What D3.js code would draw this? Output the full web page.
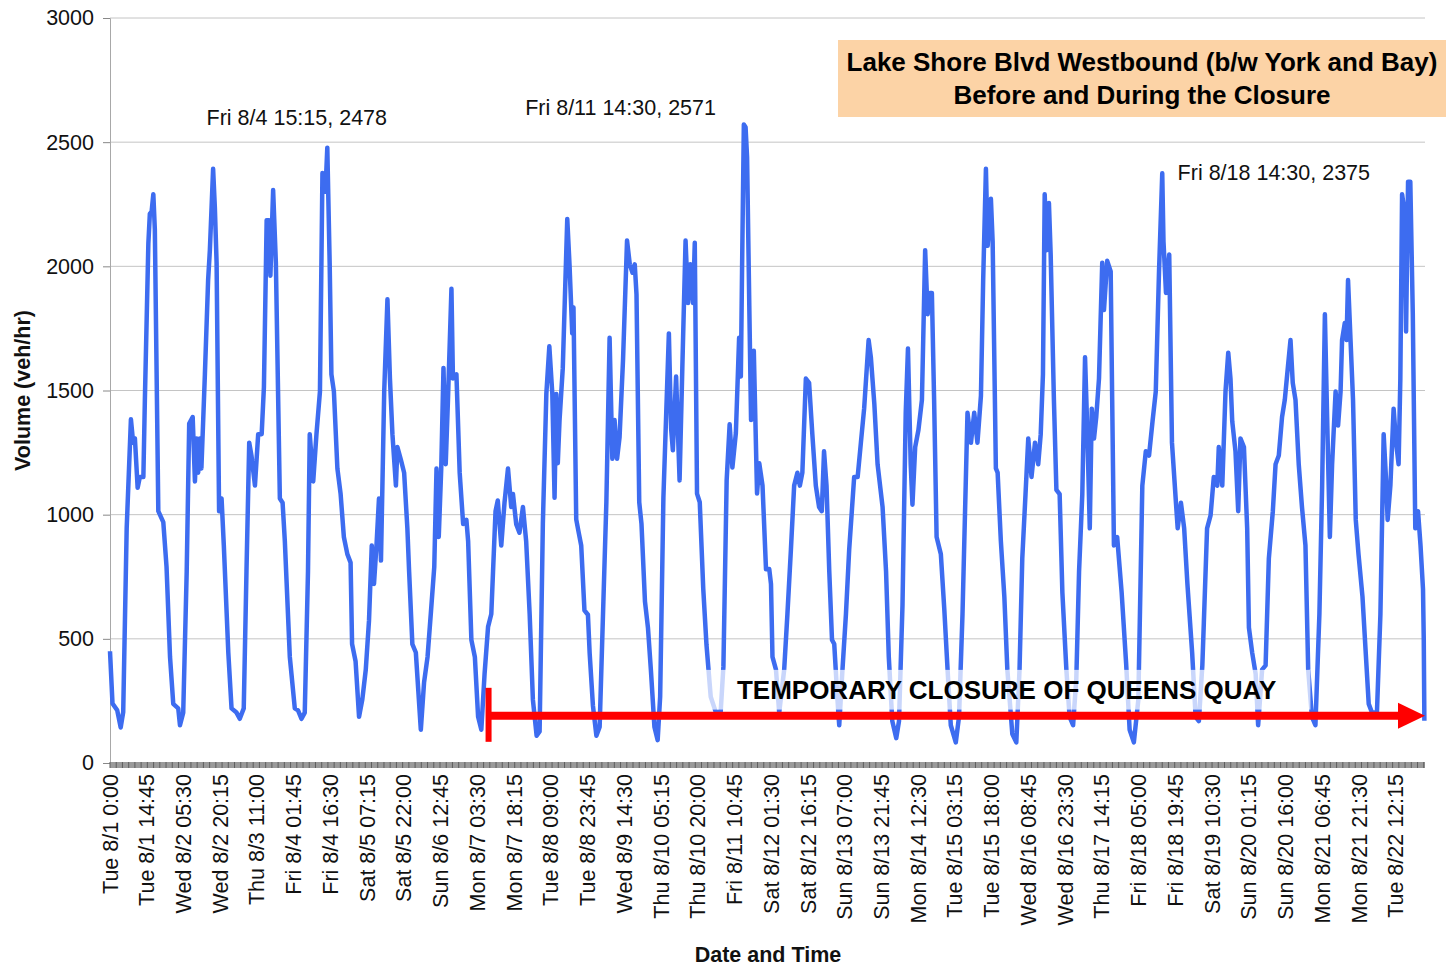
<!DOCTYPE html>
<html>
<head>
<meta charset="utf-8">
<script src="https://cdn.jsdelivr.net/npm/d3@7"></script>
<style>
  body { margin: 0; background: #fff; }
  svg { display: block; font-family: 'Liberation Sans', Arial, Helvetica, sans-serif; }
</style>
</head>
<body>
<svg id="chart" width="1447" height="967"></svg>
<script>
// category labels shown every 59 x 15 min
const xTickLabels = [
  'Tue 8/1 0:00', 'Tue 8/1 14:45', 'Wed 8/2 05:30', 'Wed 8/2 20:15', 'Thu 8/3 11:00',
  'Fri 8/4 01:45', 'Fri 8/4 16:30', 'Sat 8/5 07:15', 'Sat 8/5 22:00', 'Sun 8/6 12:45',
  'Mon 8/7 03:30', 'Mon 8/7 18:15', 'Tue 8/8 09:00', 'Tue 8/8 23:45', 'Wed 8/9 14:30',
  'Thu 8/10 05:15', 'Thu 8/10 20:00', 'Fri 8/11 10:45', 'Sat 8/12 01:30', 'Sat 8/12 16:15',
  'Sun 8/13 07:00', 'Sun 8/13 21:45', 'Mon 8/14 12:30', 'Tue 8/15 03:15', 'Tue 8/15 18:00',
  'Wed 8/16 08:45', 'Wed 8/16 23:30', 'Thu 8/17 14:15', 'Fri 8/18 05:00', 'Fri 8/18 19:45',
  'Sat 8/19 10:30', 'Sun 8/20 01:15', 'Sun 8/20 16:00', 'Mon 8/21 06:45', 'Mon 8/21 21:30',
  'Tue 8/22 12:15',
];
const yTickValues = [0, 500, 1000, 1500, 2000, 2500, 3000];

// readings per day: [hour of day, veh/hr]
const tue0801 = [[0, 450], [1, 240], [2.9, 212], [4.3, 143], [5.3, 205], [6.7, 945], [8.4, 1384], [9.3, 1290], [10, 1307], [11.1, 1108], [12, 1152], [13.4, 1152], [14, 1462], [15.4, 2091], [16, 2212], [16.7, 2220], [17.4, 2290], [18, 2150], [19.4, 1014], [21.4, 970], [22.7, 790]];
const wed0802 = [[0.1, 427], [1.4, 238], [3.4, 220], [4.1, 152], [5.4, 203], [6.8, 772], [7.8, 1367], [9.2, 1393], [10.1, 1134], [10.8, 1307], [11.4, 1169], [12.1, 1307], [12.7, 1186], [14.1, 1565], [15.4, 1945], [16.1, 2065], [17.4, 2393], [18.1, 2238], [18.8, 2014], [19.8, 1014], [20.8, 1065], [21.7, 876], [23.5, 445]];
const thu0803 = [[0.8, 220], [2.8, 203], [4.1, 178], [5.7, 220], [6.8, 772], [7.9, 1290], [8.8, 1238], [10.2, 1117], [11.5, 1324], [12.9, 1324], [13.8, 1514], [14.9, 2186], [15.9, 2186], [16.4, 1962], [17.5, 2307], [18.6, 2014], [20.2, 1065], [21.3, 1048], [22.2, 893]];
const fri0804 = [[0.2, 427], [2.2, 220], [3.5, 212], [4.9, 178], [6.2, 203], [7.5, 772], [8.2, 1324], [9.6, 1134], [10.9, 1324], [12.3, 1496], [13.3, 2376], [14.5, 2300], [15.25, 2478], [16.2, 2014], [16.9, 1565], [17.9, 1496], [19.3, 1186], [20.6, 1083], [21.9, 910], [23.3, 841]];
const sat0805 = [[0.6, 807], [1.2, 479], [2.6, 410], [4, 186], [5.3, 255], [6.7, 376], [8, 574], [9.1, 876], [10, 721], [11, 876], [12, 1065], [12.8, 815], [14.1, 1496], [15.4, 1867], [16.4, 1548], [17.4, 1324], [18.8, 1117], [19.4, 1272], [20.8, 1221], [22.1, 1169], [23.4, 945]];
const sun0806 = [[0.1, 772], [1.4, 479], [2.8, 445], [4.8, 134], [6.1, 324], [7.5, 427], [8.8, 600], [10.2, 790], [11.1, 1186], [12, 910], [13, 1186], [13.9, 1591], [14.8, 1203], [15.7, 1462], [17.1, 1910], [17.7, 1548], [19.1, 1565], [20.4, 1169], [21.8, 962], [23.1, 979], [23.8, 893]];
const mon0807 = [[1.1, 496], [2.5, 427], [3.8, 186], [5.1, 134], [6.4, 359], [7.8, 548], [9.1, 600], [9.8, 772], [10.8, 1014], [11.7, 1057], [13.1, 876], [14.4, 1048], [15.8, 1186], [17.1, 1031], [17.8, 1083], [19.1, 962], [20.4, 927], [21.8, 1031], [23.1, 893]];
const tue0808 = [[0.5, 600], [1.8, 255], [3.3, 110], [4.5, 127], [5.8, 963], [7.2, 1486], [8.4, 1678], [9.6, 1486], [10.5, 1068], [11.2, 1486], [11.8, 1207], [12.5, 1381], [13.8, 1590], [15.6, 2191], [16.5, 2008], [17.6, 1730], [18.1, 1834], [19.2, 981], [20.2, 928], [21.2, 876], [22.5, 615], [23.9, 597]];
const wed0809 = [[0.6, 441], [1.9, 232], [3.3, 110], [4.6, 145], [6, 615], [7.3, 1050], [8.6, 1712], [9.7, 1225], [10.6, 1381], [11.6, 1225], [12.6, 1312], [14, 1625], [15.6, 2104], [16.7, 2008], [17.8, 1974], [18.7, 2008], [19.4, 1887], [20.5, 1050], [21.4, 963], [22.8, 650]];
const thu0810 = [[0, 545], [1.2, 371], [2.6, 145], [3.9, 92], [4.9, 267], [6.2, 1068], [8.4, 1730], [9.3, 1347], [10, 1259], [11.3, 1556], [12.7, 1138], [13.8, 1590], [15.1, 2104], [16.1, 1852], [17, 2008], [18.1, 1852], [18.8, 2095], [19.7, 1085], [20.8, 1050], [22.2, 702], [23.5, 476]];
const fri0811 = [[1.2, 267], [3.2, 206], [5.2, 206], [6.3, 389], [7.6, 1138], [8.8, 1364], [9.9, 1190], [11.3, 1329], [12.6, 1712], [13.3, 1556], [13.8, 2000], [14.5, 2571], [15.2, 2560], [15.8, 2440], [16.7, 1834], [17.4, 1381], [18.5, 1660], [19.8, 1085], [20.7, 1207], [22, 1117], [23.4, 780]];
const sat0812 = [[0.7, 781], [1.4, 721], [2, 427], [3.4, 376], [4.7, 203], [6.7, 376], [8, 600], [9.4, 859], [10.7, 1117], [12, 1169], [13, 1117], [14, 1169], [15.4, 1548], [16.7, 1531], [18, 1324], [19.4, 1117], [20.7, 1031], [21.8, 1014], [22.7, 1255], [23.7, 1117]];
const sun0813 = [[0.8, 772], [1.9, 496], [2.8, 479], [4.1, 255], [4.8, 152], [6.1, 376], [7.5, 600], [8.8, 859], [10.8, 1152], [12.2, 1152], [13.5, 1290], [14.8, 1427], [16.6, 1703], [17.5, 1634], [18.9, 1445], [20.2, 1203], [22.2, 1031], [23.6, 772]];
const mon0814 = [[0.7, 427], [2.1, 169], [3.7, 100], [4.8, 169], [6.2, 634], [7.5, 1410], [8.4, 1669], [9.5, 1203], [10.2, 1040], [11.3, 1272], [12.6, 1341], [14, 1462], [15.3, 2065], [16.3, 1807], [17.2, 1893], [18, 1893], [18.9, 1462], [19.9, 910], [21.6, 841], [23, 617]];
const tue0815 = [[0.3, 376], [1.6, 152], [3.6, 83], [4.9, 186], [6.3, 600], [8.3, 1410], [9.7, 1290], [11, 1410], [12.3, 1290], [13.7, 1479], [14.6, 1945], [15.7, 2393], [16.4, 2083], [17.7, 2272], [18.4, 2100], [19.7, 1186], [20.4, 1169], [21.7, 893], [23.1, 669]];
const wed0816 = [[0.3, 376], [2.3, 117], [3.9, 83], [5.2, 376], [6.3, 824], [7.6, 1083], [8.7, 1307], [10, 1152], [11.4, 1290], [12.7, 1203], [13.7, 1324], [14.6, 1565], [15.3, 2290], [16.1, 2065], [17, 2255], [17.7, 2048], [19, 1462], [20, 1100], [21.3, 1083], [22.4, 686]];
const thu0817 = [[0, 376], [1.3, 186], [2.7, 152], [4, 341], [5.1, 772], [6.4, 1083], [7.5, 1634], [8.4, 1341], [9.4, 945], [10.2, 1427], [11.1, 1307], [12, 1393], [13.1, 1548], [14.4, 2014], [15.1, 1824], [16.4, 2022], [17.8, 1979], [18.4, 1462], [19.1, 876], [20.4, 910], [22.2, 686]];
const fri0818 = [[0, 400], [1.4, 134], [3.1, 83], [4.9, 255], [6.5, 1117], [7.9, 1255], [9.2, 1238], [10.6, 1376], [11.9, 1496], [13.2, 1979], [14.5, 2375], [15, 2100], [16, 1893], [17.3, 2048], [18.4, 1290], [20, 1048], [20.7, 945], [22, 1048], [23.3, 945]];
const sat0819 = [[0.6, 721], [2.5, 445], [3.9, 186], [5.2, 169], [6.6, 393], [7.2, 565], [8.5, 945], [9.9, 997], [11.2, 1152], [12.6, 1117], [13.2, 1272], [14.6, 1117], [15.9, 1496], [17, 1652], [17.9, 1548], [18.6, 1376], [19.9, 1255], [21, 1014], [21.9, 1307], [23.3, 1272]];
const sun0820 = [[0.6, 945], [1.3, 545], [2.6, 445], [4, 359], [5, 152], [6.6, 376], [8, 393], [9.3, 824], [10.9, 1014], [12, 1203], [13.3, 1238], [14.6, 1393], [15.7, 1462], [17, 1600], [18, 1703], [18.9, 1531], [20, 1462], [21.3, 1203], [22.6, 1031]];
const mon0821 = [[0, 876], [1.1, 376], [2.6, 186], [4, 152], [5.6, 600], [6.7, 1117], [7.8, 1807], [8.7, 1393], [9.8, 910], [10.7, 1203], [12.1, 1496], [13.1, 1359], [14.1, 1496], [14.7, 1703], [15.8, 1772], [16.5, 1703], [17.1, 1945], [18.1, 1703], [19.1, 1462], [20.2, 979], [21.3, 841], [22.9, 669]];
const tue0822 = [[0.1, 462], [1.4, 238], [2.7, 203], [4.7, 203], [6.1, 600], [7.4, 1324], [8.3, 1152], [9, 979], [10.1, 1117], [11.4, 1427], [12.4, 1290], [13.4, 1203], [14.1, 1548], [14.8, 2290], [15.8, 2220], [16.4, 1738], [17.2, 2341], [18.1, 2341], [19.1, 1807], [20.1, 945], [21.2, 1014], [22.2, 876], [23.2, 700], [23.5, 500], [23.75, 170]];

const days = [tue0801, wed0802, thu0803, fri0804, sat0805, sun0806, mon0807,
  tue0808, wed0809, thu0810, fri0811, sat0812, sun0813, mon0814,
  tue0815, wed0816, thu0817, fri0818, sat0819, sun0820, mon0821, tue0822];

// peak callouts: text, hour since 8/1 0:00, volume level of the text baseline
const peakNotes = [
  { text: 'Fri 8/4 15:15, 2478', hour: 75, volume: 2569 },
  { text: 'Fri 8/11 14:30, 2571', hour: 205, volume: 2609 },
  { text: 'Fri 8/18 14:30, 2375', hour: 467.3, volume: 2348 },
];
const closure = { text: 'TEMPORARY CLOSURE OF QUEENS QUAY', startHour: 152, endHour: 528, volume: 190 };
const titleLines = ['Lake Shore Blvd Westbound (b/w York and Bay)', 'Before and During the Closure'];

const cs = {
  pallette: {
    line: '#3d6cf0',
    grid: '#c4c4c4',
    axis: '#a8a8a8',
    arrow: '#ff0000',
    titleFill: '#fcd3a6',
    text: '#111',
  },
  x: { left: 110, right: 1425, tickEvery: 14.75, minorEvery: 2.5 },
  y: { bottom: 763, top: 18 },
  font: 21.5,
};

const svg = d3.select('#chart');
const series = days.flatMap((day, i) => day.map(([h, v]) => ({ t: i * 24 + h, v })));

cs.x.scale = d3.scaleLinear().domain([0, days.length * 24]).range([cs.x.left, cs.x.right]);
cs.y.scale = d3.scaleLinear().domain([0, 3000]).range([cs.y.bottom, cs.y.top]);
const x = cs.x.scale;
const y = cs.y.scale;

// gridlines
svg.append('g').selectAll('line')
  .data(yTickValues.filter(v => v > 0))
  .enter().append('line')
  .attr('x1', cs.x.left).attr('x2', cs.x.right)
  .attr('y1', d => y(d)).attr('y2', d => y(d))
  .attr('stroke', cs.pallette.grid)
  .attr('stroke-width', 1);

// y axis
const yAxis = svg.append('g')
  .attr('transform', `translate(${cs.x.left},0)`)
  .call(d3.axisLeft(y).tickValues(yTickValues).tickSize(7).tickPadding(9).tickFormat(d3.format('d')));
yAxis.select('.domain').attr('stroke', cs.pallette.axis);
yAxis.selectAll('.tick line').attr('stroke', '#888');
yAxis.selectAll('.tick text')
  .attr('font-size', cs.font).attr('fill', cs.pallette.text)
  .attr('font-family', "'Liberation Sans', Arial, sans-serif");

svg.append('text')
  .attr('transform', `translate(30,${(cs.y.top + cs.y.bottom) / 2}) rotate(-90)`)
  .attr('text-anchor', 'middle')
  .attr('font-size', cs.font).attr('font-weight', 'bold')
  .attr('fill', cs.pallette.text)
  .text('Volume (veh/hr)');

// volume line
cs.lineFunction = d3.line().x(d => x(d.t)).y(d => y(d.v));
svg.append('path')
  .datum(series)
  .attr('fill', 'none')
  .attr('stroke', cs.pallette.line)
  .attr('stroke-width', 4.5)
  .attr('stroke-linejoin', 'round')
  .attr('d', cs.lineFunction);

// x axis band with dense ticks
svg.append('rect')
  .attr('x', cs.x.left).attr('y', cs.y.bottom - 1)
  .attr('width', cs.x.right - cs.x.left).attr('height', 6)
  .attr('fill', '#9a9a9a');
svg.append('g').selectAll('line')
  .data(d3.range(0, days.length * 24 + 0.01, cs.x.minorEvery))
  .enter().append('line')
  .attr('x1', d => x(d)).attr('x2', d => x(d))
  .attr('y1', cs.y.bottom - 1).attr('y2', cs.y.bottom + 5)
  .attr('stroke', '#5e5e5e').attr('stroke-width', 1);

svg.append('g').selectAll('text')
  .data(xTickLabels)
  .enter().append('text')
  .attr('transform', (d, i) => `translate(${x(i * cs.x.tickEvery)},${cs.y.bottom + 11}) rotate(-90)`)
  .attr('text-anchor', 'end')
  .attr('dy', '0.35em')
  .attr('font-size', cs.font)
  .attr('fill', cs.pallette.text)
  .text(d => d);

svg.append('text')
  .attr('x', 768).attr('y', 962)
  .attr('text-anchor', 'middle')
  .attr('font-size', cs.font).attr('font-weight', 'bold')
  .attr('fill', cs.pallette.text)
  .text('Date and Time');

// closure label box (semi-opaque, fades the line beneath)
svg.append('rect')
  .attr('x', x(237)).attr('y', y(375))
  .attr('width', x(482) - x(237)).attr('height', y(215) - y(375))
  .attr('fill', '#fff').attr('opacity', 0.72);
svg.append('text')
  .attr('x', x(360)).attr('y', y(258))
  .attr('text-anchor', 'middle')
  .attr('font-size', 26).attr('font-weight', 'bold')
  .attr('fill', '#000')
  .text(closure.text);

// closure arrow
const ay = y(closure.volume);
svg.append('line')
  .attr('x1', x(closure.startHour)).attr('x2', x(closure.endHour) - 24)
  .attr('y1', ay).attr('y2', ay)
  .attr('stroke', cs.pallette.arrow).attr('stroke-width', 8);
svg.append('rect')
  .attr('x', x(closure.startHour) - 3).attr('y', ay - 28)
  .attr('width', 6).attr('height', 54)
  .attr('fill', cs.pallette.arrow);
svg.append('path')
  .attr('d', `M${x(closure.endHour) - 27},${ay - 13} L${x(closure.endHour)},${ay} L${x(closure.endHour) - 27},${ay + 13} Z`)
  .attr('fill', cs.pallette.arrow);

// peak notes
svg.append('g').selectAll('text')
  .data(peakNotes)
  .enter().append('text')
  .attr('x', d => x(d.hour)).attr('y', d => y(d.volume))
  .attr('text-anchor', 'middle')
  .attr('font-size', cs.font)
  .attr('fill', cs.pallette.text)
  .text(d => d.text);

// title box
const title = svg.append('g');
title.append('rect')
  .attr('x', 838).attr('y', 40).attr('width', 608).attr('height', 77)
  .attr('fill', cs.pallette.titleFill);
title.selectAll('text')
  .data(titleLines)
  .enter().append('text')
  .attr('x', 1142).attr('y', (d, i) => 71 + i * 33)
  .attr('text-anchor', 'middle')
  .attr('font-size', 26).attr('font-weight', 'bold')
  .attr('fill', '#000')
  .text(d => d);
</script>
</body>
</html>
